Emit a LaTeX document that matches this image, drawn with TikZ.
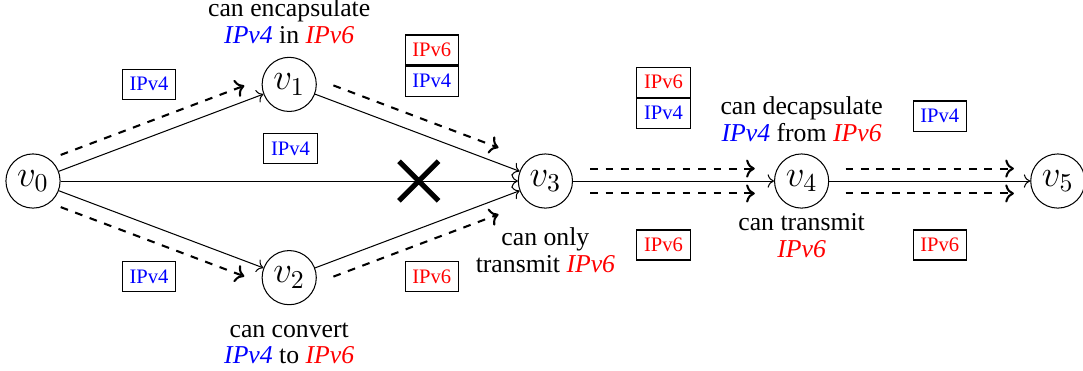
\documentclass[tikz,border=0pt]{standalone}
\usepackage{fontspec}
\setmainfont{Liberation Serif}
\usetikzlibrary{positioning, arrows.meta, shapes.misc, calc}

\newcommand{\ipfour}{\textcolor{blue}{\textit{IPv4}}}
\newcommand{\ipsix}{\textcolor{red}{\textit{IPv6}}}

\begin{document}
\begin{tikzpicture}[
    router/.style={circle, draw, minimum size=0.74cm, inner sep=0pt, font=\Large},
    link/.style={->},
    flow/.style={->, dashed, thick},
    pkt/.style={rectangle, draw, font=\footnotesize, minimum width=0.73cm, minimum height=0.41cm, inner sep=0pt},
    note/.style={align=center, inner sep=0pt},
    blocked/.style={cross out, draw, line width=2pt, minimum size=0.47cm, inner sep=0pt}
]
    \useasboundingbox (-0.451,-2.582) rectangle (14.344,2.473);

    \node[router] (v0) at (0,0) {$v_0$};
    \node[router] (v1) at (3.5,1.32) {$v_1$};
    \node[router] (v2) at (3.5,-1.32) {$v_2$};
    \node[router] (v3) at (7,0) {$v_3$};
    \node[router] (v4) at (10.5,0) {$v_4$};
    \node[router] (v5) at (14,0) {$v_5$};

    \draw[link] (v0) -- (v1);
    \draw[link] (v0) -- (v2);
    \draw[link] (v0) -- (v3);
    \draw[link] (v1) -- (v3);
    \draw[link] (v2) -- (v3);
    \draw[link] (v3) -- (v4);
    \draw[link] (v4) -- (v5);

    \node[blocked] (cut) at (5.27,0) {};

    % packet flows beside the links
    \draw[flow] ($(v0)!0.48cm!(v1)!0.2cm!90:(v1)$) -- ($(v1)!0.58cm!(v0)!0.2cm!-90:(v0)$);
    \draw[flow] ($(v1)!0.57cm!(v3)!0.2cm!90:(v3)$) -- ($(v3)!0.76cm!(v1)!0.2cm!-90:(v1)$);
    \draw[flow] ($(v0)!0.48cm!(v2)!0.2cm!-90:(v2)$) -- ($(v2)!0.58cm!(v0)!0.2cm!90:(v0)$);
    \draw[flow] ($(v2)!0.57cm!(v3)!0.2cm!-90:(v3)$) -- ($(v3)!0.76cm!(v2)!0.2cm!90:(v2)$);
    \draw[flow] ($(v3)+(0.61,0.17)$) -- ($(v4)+(-0.64,0.17)$);
    \draw[flow] ($(v3)+(0.61,-0.17)$) -- ($(v4)+(-0.64,-0.17)$);
    \draw[flow] ($(v4)+(0.6,0.17)$) -- ($(v5)+(-0.6,0.17)$);
    \draw[flow] ($(v4)+(0.6,-0.17)$) -- ($(v5)+(-0.6,-0.17)$);

    % packets
    \node[pkt] (p01) at (1.585,1.325) {\textcolor{blue}{IPv4}};
    \node[pkt] (p02) at (1.585,-1.31) {\textcolor{blue}{IPv4}};
    \node[pkt] (p03) at (3.518,0.444) {\textcolor{blue}{IPv4}};
    \node[pkt] (p13) at (5.447,1.79) {\textcolor{red}{IPv6}};
    \node[pkt, below=0pt of p13] (p13in) {\textcolor{blue}{IPv4}};
    \node[pkt] (p23) at (5.447,-1.31) {\textcolor{red}{IPv6}};
    \node[pkt] (p34) at (8.613,1.352) {\textcolor{red}{IPv6}};
    \node[pkt, below=0pt of p34] (p34in) {\textcolor{blue}{IPv4}};
    \node[pkt] (p34low) at (8.613,-0.874) {\textcolor{red}{IPv6}};
    \node[pkt] (p45) at (12.387,0.888) {\textcolor{blue}{IPv4}};
    \node[pkt] (p45low) at (12.387,-0.874) {\textcolor{red}{IPv6}};

    \node[note, above=0.17cm of v1] (n1) {can encapsulate\\[-1.6pt]\ipfour{} in \ipsix};
    \node[note, below=0.23cm of v2] (n2) {can convert\\[-1.6pt]\ipfour{} to \ipsix};
    \node[note, below=0.25cm of v3] (n3) {can only\\[-1.6pt]transmit \ipsix};
    \node[note, above=0.15cm of v4] (n4) {can decapsulate\\[-1.6pt]\ipfour{} from \ipsix};
    \node[note, below=0.06cm of v4] (n4low) {can transmit\\[-1.6pt]\ipsix};
\end{tikzpicture}
\end{document}
